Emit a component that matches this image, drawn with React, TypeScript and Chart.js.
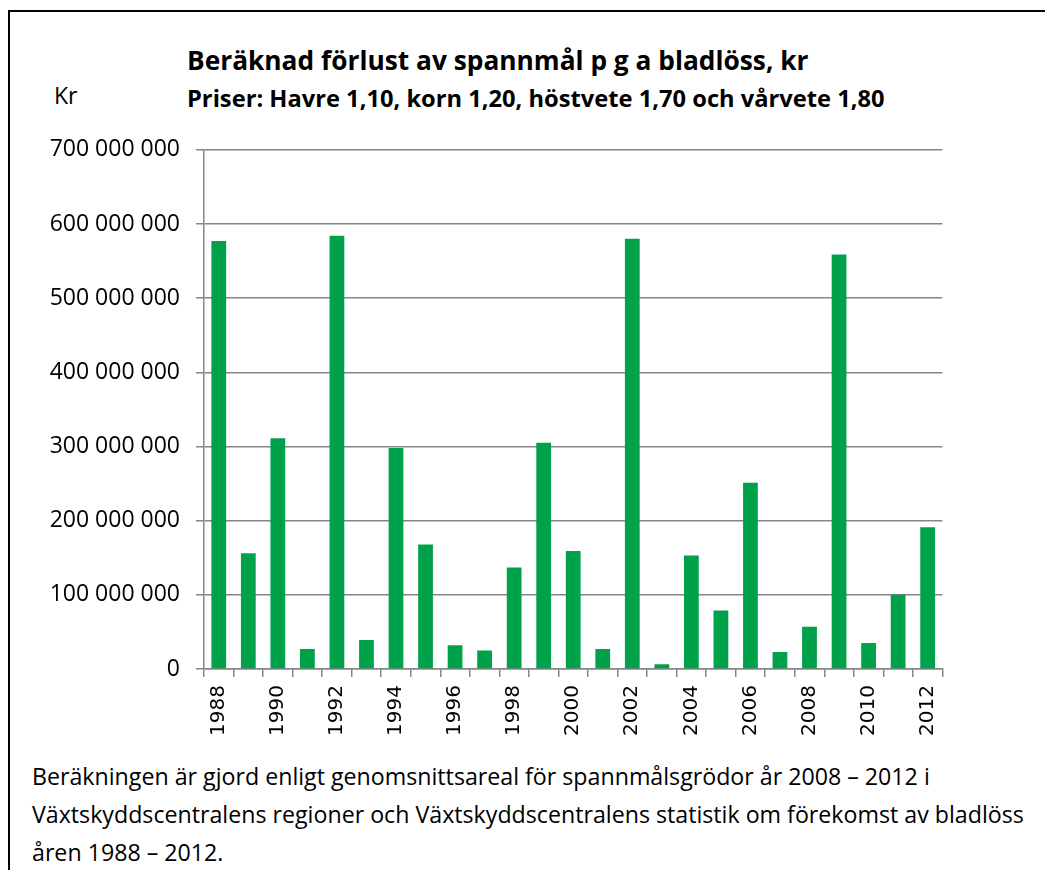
import React, { useEffect, useRef } from "react";
import { Chart, registerables } from "chart.js";

Chart.register(...registerables);

const years: string[] = [
  "1988", "1989", "1990", "1991", "1992", "1993", "1994", "1995", "1996", "1997",
  "1998", "1999", "2000", "2001", "2002", "2003", "2004", "2005", "2006", "2007",
  "2008", "2009", "2010", "2011", "2012",
];

const losses: number[] = [
  577000000, 156000000, 311000000, 27000000, 584000000, 39000000, 298000000, 168000000,
  32000000, 25000000, 137000000, 305000000, 159000000, 27000000, 580000000, 6500000,
  153000000, 79000000, 251000000, 23000000, 57000000, 559000000, 35000000, 100000000,
  191000000,
];

const yTicks: number[] = [0, 100000000, 200000000, 300000000, 400000000, 500000000, 600000000, 700000000];

const titleText = "Beräknad förlust av spannmål p g a bladlöss, kr";
const subtitleText = "Priser: Havre 1,10, korn 1,20, höstvete 1,70 och vårvete 1,80";
const yUnit = "Kr";
const footLines: string[] = [
  "Beräkningen är gjord enligt genomsnittsareal för spannmålsgrödor år 2008 – 2012 i",
  "Växtskyddscentralens regioner och Växtskyddscentralens statistik om förekomst av bladlöss",
  "åren 1988 – 2012.",
];

const fmt = (v: number) => {
  const s = Math.round(v).toString();
  return s.replace(/\B(?=(\d{3})+(?!\d))/g, " ");
};

const GRID = "#868686";
const BAR = "#00A14B";

export default function App() {
  const canvasRef = useRef<HTMLCanvasElement | null>(null);

  useEffect(() => {
    const canvas = canvasRef.current;
    if (!canvas) return;
    const chart = new Chart(canvas, {
      type: "bar",
      data: {
        labels: years,
        datasets: [
          {
            data: losses,
            backgroundColor: BAR,
            borderWidth: 0,
            barPercentage: 0.5,
            categoryPercentage: 1,
          },
        ],
      },
      options: {
        animation: false,
        responsive: false,
        maintainAspectRatio: false,
        layout: { padding: { left: 0, right: 17, top: 28, bottom: 0 } },
        plugins: {
          legend: { display: false },
          tooltip: { enabled: false },
          title: { display: false },
        },
        scales: {
          x: {
            grid: {
              display: true,
              drawOnChartArea: false,
              drawTicks: true,
              tickLength: 8,
              color: GRID,
              lineWidth: 1.5,
              offset: true,
            },
            border: { display: true, color: GRID, width: 1.5 },
            ticks: {
              autoSkip: false,
              maxRotation: 90,
              minRotation: 90,
              padding: 8,
              color: "#000",
              font: { family: "'DejaVu Sans'", size: 20 },
              callback: (_v: any, i: number) => (i % 2 === 0 ? years[i] : ""),
            },
            afterFit: (scale: any) => {
              scale.height = 81;
            },
          },
          y: {
            min: 0,
            max: 700000000,
            afterBuildTicks: (scale: any) => {
              scale.ticks = yTicks.map((v) => ({ value: v }));
            },
            grid: {
              color: GRID,
              lineWidth: 1.5,
              drawTicks: true,
              tickLength: 8,
            },
            border: { display: true, color: GRID, width: 1.5 },
            ticks: {
              padding: 16,
              color: "#000",
              font: { family: "'Open Sans'", size: 23 },
              callback: (v: any) => fmt(Number(v)),
            },
            afterFit: (scale: any) => {
              scale.width = 184;
            },
          },
        },
      },
    });
    return () => chart.destroy();
  }, []);

  const font = "'Open Sans', sans-serif";

  return (
    <div
      style={{
        position: "absolute",
        left: 0,
        top: 0,
        width: 1045,
        height: 870,
        overflow: "hidden",
        background: "#fff",
        fontFamily: font,
        color: "#000",
      }}
    >
      <div
        style={{
          position: "absolute",
          left: 8,
          top: 10,
          width: 1045,
          height: 870,
          borderLeft: "2px solid #000",
          borderTop: "2px solid #000",
        }}
      />
      <div
        style={{
          position: "absolute",
          left: 187,
          top: 47,
          fontSize: 26.3,
          lineHeight: "26.3px",
          fontWeight: 700,
          whiteSpace: "nowrap",
        }}
      >
        {titleText}
      </div>
      <div
        style={{
          position: "absolute",
          left: 187,
          top: 87,
          fontSize: 23.7,
          lineHeight: "23.7px",
          fontWeight: 700,
          whiteSpace: "nowrap",
        }}
      >
        {subtitleText}
      </div>
      <div
        style={{
          position: "absolute",
          left: 54,
          top: 84,
          fontSize: 23,
          lineHeight: "23px",
          whiteSpace: "nowrap",
        }}
      >
        {yUnit}
      </div>
      <canvas
        ref={canvasRef}
        width={940}
        height={630}
        style={{ position: "absolute", left: 20, top: 120, width: 940, height: 630 }}
      />
      <div
        style={{
          position: "absolute",
          left: 32,
          top: 757,
          fontSize: 23.2,
          lineHeight: "38px",
          whiteSpace: "nowrap",
        }}
      >
        {footLines.map((l, i) => (
          <div key={i}>{l}</div>
        ))}
      </div>
    </div>
  );
}
